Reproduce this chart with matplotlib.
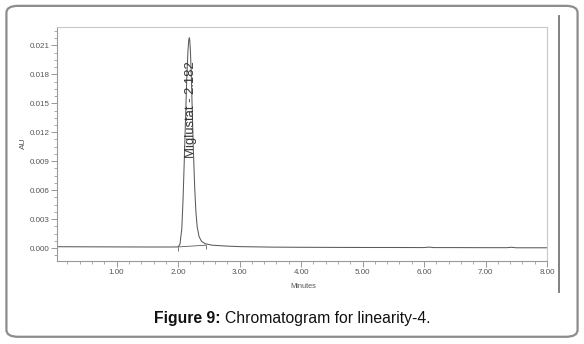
import matplotlib
matplotlib.use("Agg")
import matplotlib.pyplot as plt
from matplotlib.patches import FancyBboxPatch
from matplotlib.ticker import MultipleLocator, FormatStrFormatter
from matplotlib.lines import Line2D

plt.rcParams['font.family'] = ['Liberation Sans', 'DejaVu Sans']

# trace (minutes, AU)
time = [0.02, 0.5, 1.0, 1.5, 1.9, 2.00, 2.03, 2.06, 2.08, 2.10, 2.12, 2.14, 2.16,
        2.172, 2.182, 2.19, 2.20, 2.215, 2.23, 2.25, 2.27, 2.29, 2.31, 2.34,
        2.38, 2.44, 2.55, 2.8, 3.0, 3.5, 4.0, 4.5, 5.0, 5.5, 6.0, 6.08, 6.15,
        6.5, 7.0, 7.35, 7.42, 7.5, 8.0]
au = [0.00014, 0.00013, 0.00012, 0.00011, 0.00011, 0.00012, 0.0004, 0.0020,
      0.0050, 0.0090, 0.0132, 0.0175, 0.0204, 0.0215, 0.0218, 0.0215, 0.0204,
      0.0178, 0.0142, 0.0098, 0.0062, 0.0037, 0.0022, 0.0012, 0.0007, 0.00045,
      0.0003, 0.0002, 0.00015, 0.0001, 0.00008, 0.00007, 0.00006, 0.00006,
      0.00005, 0.0001, 0.00005, 0.00005, 0.00004, 0.00004, 0.00008, 0.00003,
      0.00003]

# integration baseline under the peak
base_t = [2.00, 2.46]
base_au = [0.00012, 0.00030]

peak_name = "Miglustat - 2.182"
peak_rt = 2.182

fig = plt.figure(figsize=(5.84, 3.44), dpi=100)

# rounded frame around the figure
frame = FancyBboxPatch((0.011, 0.021), 0.978, 0.962,
                       boxstyle="round,pad=0,rounding_size=0.02",
                       transform=fig.transFigure, fill=False,
                       edgecolor='#8c8c8c', linewidth=1.6)
fig.patches.append(frame)
fig.lines.append(Line2D([559 / 584, 559 / 584], [1 - 16 / 344, 1 - 292 / 344],
                        transform=fig.transFigure, color='#777777', lw=1.3))

ax = fig.add_axes([57 / 584, 1 - 261 / 344, 490 / 584, 234 / 344])
ax.plot(time, au, color='#5a5a5a', lw=0.75)
ax.plot(base_t, base_au, color='#5a5a5a', lw=0.6)
ax.plot(base_t, [v - 0.0002 for v in base_au], linestyle='none', marker='|',
        markersize=3, color='#777777', mew=0.7)

ax.text(peak_rt + 0.02, 0.0093, peak_name, rotation=90, ha='center', va='bottom',
        fontsize=9.4, color='#333333')

ax.set_xlim(0.03, 8.0)
ax.set_ylim(-0.00134, 0.0229)
ax.xaxis.set_major_locator(MultipleLocator(1.0))
ax.xaxis.set_minor_locator(MultipleLocator(0.2))
ax.yaxis.set_major_locator(MultipleLocator(0.003))
ax.yaxis.set_minor_locator(MultipleLocator(0.00075))
ax.xaxis.set_major_formatter(FormatStrFormatter('%.2f'))
ax.yaxis.set_major_formatter(FormatStrFormatter('%.3f'))

ax.tick_params(axis='both', which='major', labelsize=5.8, labelcolor='#555555',
               color='#888888', length=4, width=0.6, pad=1.5)
ax.tick_params(axis='both', which='minor', color='#888888', length=2.5, width=0.5)

for side in ['top', 'right']:
    ax.spines[side].set_color('#c8c8c8')
    ax.spines[side].set_linewidth(0.8)
for side in ['left', 'bottom']:
    ax.spines[side].set_color('#999999')
    ax.spines[side].set_linewidth(0.8)

ax.set_xlabel('Minutes', fontsize=5.3, color='#555555')
ax.xaxis.set_label_coords((303 - 57) / 490, -(283 - 261) / 234)
ax.set_ylabel('AU', fontsize=6, color='#555555')
ax.yaxis.set_label_coords((27 - 57) / 490, (261 - 143) / 234)

# caption: bold part, then plain part placed right after it
cap_y = 1 - 318 / 344
t1 = fig.text(154 / 584, cap_y, 'Figure 9: ', fontsize=11.3, fontweight='bold',
              ha='left', va='center', color='#111111')
r = fig.canvas.get_renderer()
bb = t1.get_window_extent(renderer=r)
fig.text(bb.x1 / fig.bbox.width, cap_y, 'Chromatogram for linearity-4.',
         fontsize=11.3, ha='left', va='center', color='#111111')

fig.savefig('out.png', dpi=100)
